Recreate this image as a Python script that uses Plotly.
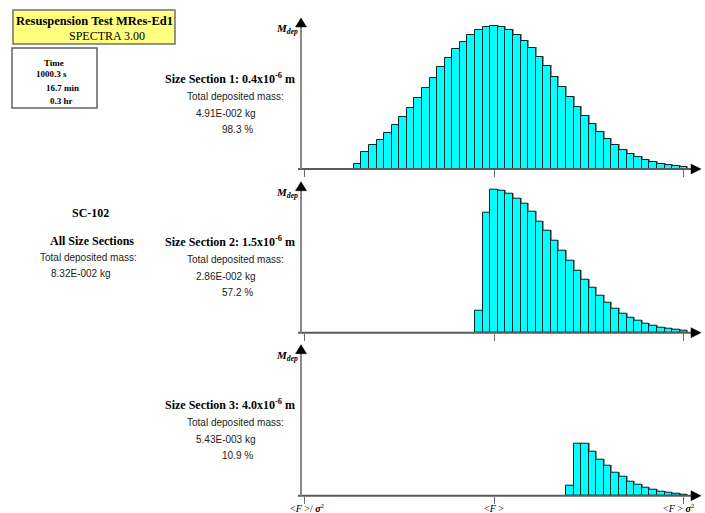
import numpy as np
import plotly.graph_objects as go

# ---------------------------------------------------------------------------
# Deposited mass per force bin (relative units, section-1 peak = 1.0).
# Bins are spaced 0.04 in log-units where <F>/sigma^2 -> -1, <F> -> 0,
# <F>*sigma^2 -> +1.
# ---------------------------------------------------------------------------
BIN_STEP = 0.04

sec1_first_bin = -18
sec1_mass = [0.033, 0.121, 0.168, 0.205, 0.254, 0.308, 0.364, 0.429, 0.497, 0.566,
             0.636, 0.713, 0.776, 0.839, 0.890, 0.937, 0.972, 0.993, 1.000, 0.993,
             0.972, 0.939, 0.897, 0.846, 0.783, 0.718, 0.643, 0.573, 0.503, 0.434,
             0.371, 0.312, 0.259, 0.212, 0.168, 0.135, 0.105, 0.084, 0.063, 0.047,
             0.035, 0.028, 0.021, 0.014]

sec2_first_bin = -2
sec2_mass = [0.154, 0.839, 0.998, 0.993, 0.972, 0.939, 0.900, 0.844, 0.779, 0.716,
             0.643, 0.576, 0.506, 0.436, 0.373, 0.312, 0.261, 0.212, 0.170, 0.135,
             0.107, 0.084, 0.063, 0.047, 0.037, 0.026, 0.019, 0.014]

sec3_first_bin = 10
sec3_mass = [0.072, 0.361, 0.366, 0.310, 0.254, 0.207, 0.163, 0.133, 0.100, 0.079,
             0.058, 0.042, 0.030, 0.021, 0.016, 0.009]

section_titles = ["Size Section 1: 0.4x10<sup>-6</sup> m",
                  "Size Section 2: 1.5x10<sup>-6</sup> m",
                  "Size Section 3: 4.0x10<sup>-6</sup> m"]
section_mass_kg = ["4.91E-002 kg", "2.86E-002 kg", "5.43E-003 kg"]
section_percent = ["98.3 %", "57.2 %", "10.9 %"]

tick_vals = [-1, 0, 1]
tick_text = ["&lt;<i>F</i> &gt;/ <b><i>σ</i></b><sup>2</sup>",
             "&lt;<i>F</i> &gt;",
             "&lt;<i>F</i> &gt; <b><i>σ</i></b><sup>2</sup>"]

# ---------------------------------------------------------------------------
# Page geometry (pixels), converted to paper coordinates
# ---------------------------------------------------------------------------
W, H = 705, 513
SERIF = "Liberation Serif, Times New Roman, serif"
SANS = "Liberation Sans, Arial, sans-serif"


def px(x):
    return x / W


def py(y):
    return 1 - y / H


AXIS_X = 301          # y-axis position
X_END = 700           # tip of x arrow
X0_PIX, X_UNIT = 494, 189.5   # pixel of <F>, pixels per log-unit
PANEL_H = 151         # baseline to arrow tip
PEAK_H = 143          # pixel height of a bar with value 1.0
baselines = [169.0, 332.7, 495.7]

x_range = [(AXIS_X - X0_PIX) / X_UNIT, (X_END - X0_PIX) / X_UNIT]
y_range = [0, PANEL_H / PEAK_H]

fig = go.Figure()
shapes, annotations = [], []

sections = [(sec1_first_bin, sec1_mass), (sec2_first_bin, sec2_mass),
            (sec3_first_bin, sec3_mass)]

for i, ((first, mass), base) in enumerate(zip(sections, baselines)):
    n = i + 1
    xa = "x" if n == 1 else f"x{n}"
    ya = "y" if n == 1 else f"y{n}"
    centres = (np.arange(len(mass)) + first) * BIN_STEP
    vals = np.array(mass)

    # soft grey edge behind each bar (offset one pixel right and up)
    fig.add_trace(go.Bar(x=centres + 1 / X_UNIT, y=vals + 1 / PEAK_H, width=BIN_STEP,
                         marker=dict(color="#8f8f8f", line=dict(width=0)),
                         xaxis=xa, yaxis=ya, hoverinfo="skip", showlegend=False))
    fig.add_trace(go.Bar(x=centres, y=vals, width=BIN_STEP,
                         marker=dict(color="#00FFFF",
                                     line=dict(color="#0b2626", width=1)),
                         xaxis=xa, yaxis=ya, showlegend=False,
                         name=f"Size Section {n}"))

    xkey = "xaxis" if n == 1 else f"xaxis{n}"
    ykey = "yaxis" if n == 1 else f"yaxis{n}"
    fig.update_layout(**{
        xkey: dict(domain=[px(AXIS_X), px(X_END)], range=x_range, anchor=ya,
                   showgrid=False, zeroline=False, showline=False,
                   tickvals=tick_vals, ticks="outside", ticklen=7,
                   tickcolor="#6e6e6e", tickwidth=1, showticklabels=False,
                   fixedrange=True),
        ykey: dict(domain=[py(base), py(base - PANEL_H)], range=y_range, anchor=xa,
                   showgrid=False, zeroline=False, showline=False,
                   showticklabels=False, ticks="", fixedrange=True),
    })

    # axis lines
    shapes.append(dict(type="line", xref="paper", yref="paper",
                       x0=px(AXIS_X - 3), x1=px(X_END - 8), y0=py(base), y1=py(base),
                       line=dict(color="#5a5a5a", width=2), layer="above"))
    shapes.append(dict(type="line", xref="paper", yref="paper",
                       x0=px(AXIS_X), x1=px(AXIS_X), y0=py(base),
                       y1=py(base - PANEL_H + 8),
                       line=dict(color="#8a8a8a", width=2), layer="above"))
    # arrow heads
    tip = base - PANEL_H
    shapes.append(dict(type="path", xref="paper", yref="paper",
                       path=(f"M {px(AXIS_X)},{py(tip)} L {px(AXIS_X - 5.5)},{py(tip + 9)} "
                             f"L {px(AXIS_X + 5.5)},{py(tip + 9)} Z"),
                       fillcolor="black", line=dict(color="black", width=0.5),
                       layer="above"))
    shapes.append(dict(type="path", xref="paper", yref="paper",
                       path=(f"M {px(X_END + 1)},{py(base)} L {px(X_END - 9)},{py(base - 5)} "
                             f"L {px(X_END - 9)},{py(base + 5)} Z"),
                       fillcolor="black", line=dict(color="black", width=0.5),
                       layer="above"))
    # y-axis label
    annotations.append(dict(text="<b><i>M</i></b><sub><b><i>dep</i></b></sub>",
                            xref="paper", yref="paper", x=px(AXIS_X - 1),
                            y=py(tip + 11), xanchor="right", yanchor="middle",
                            showarrow=False,
                            font=dict(family=SERIF, size=11, color="black")))

    # section text block
    ty = base - 91
    annotations.append(dict(text=f"<b>{section_titles[i]}</b>", xref="paper",
                            yref="paper", x=px(230), y=py(ty), showarrow=False,
                            xanchor="center", yanchor="middle",
                            font=dict(family=SERIF, size=12, color="black")))
    annotations.append(dict(text="Total deposited mass:", xref="paper", yref="paper",
                            x=px(235), y=py(ty + 18), showarrow=False,
                            xanchor="center", yanchor="middle",
                            font=dict(family=SANS, size=10, color="#222222")))
    annotations.append(dict(text=section_mass_kg[i], xref="paper", yref="paper",
                            x=px(226), y=py(ty + 35), showarrow=False,
                            xanchor="center", yanchor="middle",
                            font=dict(family=SANS, size=10, color="#222222")))
    annotations.append(dict(text=section_percent[i], xref="paper", yref="paper",
                            x=px(237), y=py(ty + 51), showarrow=False,
                            xanchor="center", yanchor="middle",
                            font=dict(family=SANS, size=10, color="#222222")))

# force labels under the bottom panel
for val, txt, anchor, dx in zip(tick_vals, tick_text, ["left", "center", "center"],
                                [-17, 0, -5]):
    annotations.append(dict(text=txt, xref="paper", yref="paper",
                            x=px(X0_PIX + val * X_UNIT + dx), y=py(508),
                            xanchor=anchor, yanchor="middle", showarrow=False,
                            font=dict(family=SERIF, size=10, color="black")))

# title box and time box
shapes.append(dict(type="rect", xref="paper", yref="paper",
                   x0=px(13), x1=px(175), y0=py(10), y1=py(44),
                   fillcolor="#FFFF80", line=dict(color="#707070", width=1.5),
                   layer="below"))
shapes.append(dict(type="rect", xref="paper", yref="paper",
                   x0=px(12), x1=px(97), y0=py(48), y1=py(108),
                   fillcolor="white", line=dict(color="#606060", width=1.5),
                   layer="below"))

header = [
    ("<b>Resuspension Test MRes-Ed1</b>", 94, 21, 12.5, "center"),
    ("SPECTRA 3.00", 107, 36, 12, "center"),
    ("<b>Time</b>", 54, 63, 9, "center"),
    ("<b>1000.3 s</b>", 34, 74, 9, "left"),
    ("<b>16.7 min</b>", 44, 88, 9, "left"),
    ("<b>0.3 hr</b>", 48, 101, 9, "left"),
    ("<b>SC-102</b>", 90, 213, 12, "center"),
    ("<b>All Size Sections</b>", 92, 241, 12, "center"),
]
for txt, x, y, size, anchor in header:
    annotations.append(dict(text=txt, xref="paper", yref="paper", x=px(x), y=py(y),
                            xanchor=anchor, yanchor="middle", showarrow=False,
                            font=dict(family=SERIF, size=size, color="black")))

annotations.append(dict(text="Total deposited mass:", xref="paper", yref="paper",
                        x=px(88), y=py(257), xanchor="center", yanchor="middle",
                        showarrow=False, font=dict(family=SANS, size=10, color="#222222")))
annotations.append(dict(text="8.32E-002 kg", xref="paper", yref="paper",
                        x=px(81), y=py(273), xanchor="center", yanchor="middle",
                        showarrow=False, font=dict(family=SANS, size=10, color="#222222")))

fig.update_layout(width=W, height=H, margin=dict(l=0, r=0, t=0, b=0),
                  paper_bgcolor="white", plot_bgcolor="rgba(0,0,0,0)",
                  barmode="overlay", bargap=0, showlegend=False,
                  shapes=shapes, annotations=annotations)

fig.write_html("out.html", config={"displayModeBar": False})
